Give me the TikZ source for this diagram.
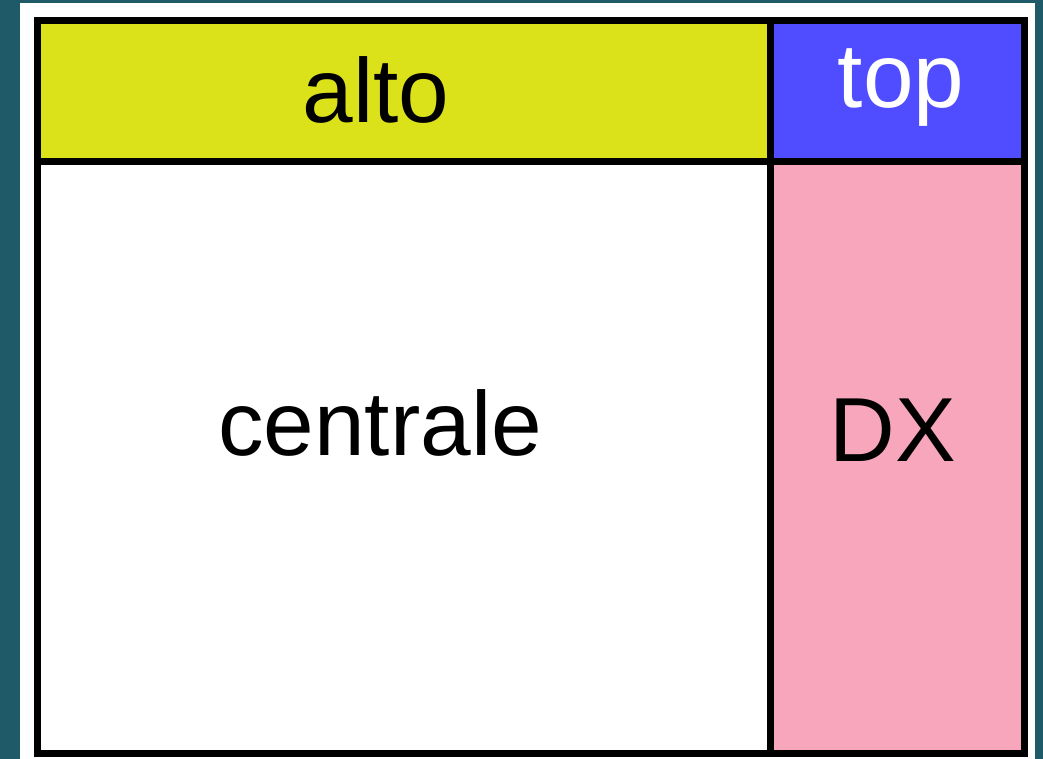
\documentclass[tikz,border=0pt]{standalone}
\usepackage{fontspec}
\setmainfont{Liberation Sans}
\definecolor{teal0}{RGB}{31,90,105}
\definecolor{yel}{RGB}{220,226,26}
\definecolor{blu}{RGB}{80,76,255}
\definecolor{pnk}{RGB}{247,166,188}
\tikzset{
  cell/.style={draw=black, line width=7pt},
  lbl/.style={anchor=base, inner sep=0pt, font=\fontsize{91}{100}\selectfont},
}
\begin{document}
\begin{tikzpicture}[x=1pt,y=-1pt]
\useasboundingbox (0,0) rectangle (1043,759);
\fill[teal0] (0,0) rectangle (1043,759);
\fill[white] (20,3) rectangle (1035,759);
\fill[yel] (37.5,20.5) rectangle (770.5,161.5);
\fill[blu] (770.5,20.5) rectangle (1024.5,161.5);
\fill[white] (37.5,161.5) rectangle (770.5,753.5);
\fill[pnk] (770.5,161.5) rectangle (1024.5,753.5);
\draw[cell] (37.5,20.5) rectangle (1024.5,753.5);
\draw[cell] (37.5,161.5) -- (1024.5,161.5);
\draw[cell] (770.5,20.5) -- (770.5,753.5);
\node[lbl, text=black] (alto) at (376,123) {alto};
\node[lbl, text=white] (top) at (901,108) {top};
\node[lbl, text=black] (centrale) at (380,455) {centrale};
\node[lbl, text=black] (dx) at (893,461) {DX};
\end{tikzpicture}
\end{document}
